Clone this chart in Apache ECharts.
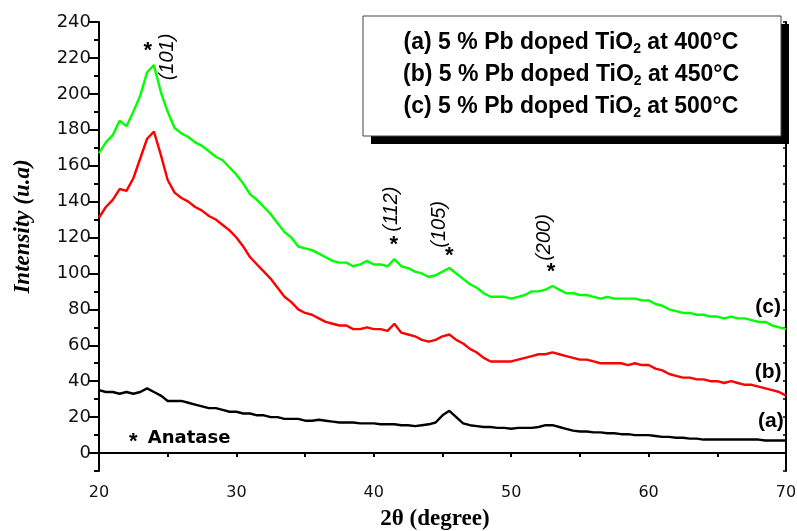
<!DOCTYPE html>
<html>
<head>
<meta charset="utf-8">
<script src="https://cdn.jsdelivr.net/npm/echarts@6/dist/echarts.min.js"></script>
<style>
  html, body { margin: 0; padding: 0; background: #fff; }
  #chart { width: 797px; height: 531px; }
</style>
</head>
<body>
<div id="chart"></div>
<script>
// 2theta sampling (degree)
var twoTheta = [
  20,20.5,21,21.5,22,22.5,23,23.5,24,24.5,
  25,25.5,26,26.5,27,27.5,28,28.5,29,29.5,
  30,30.5,31,31.5,32,32.5,33,33.5,34,34.5,
  35,35.5,36,36.5,37,37.5,38,38.5,39,39.5,
  40,40.5,41,41.5,42,42.5,43,43.5,44,44.5,
  45,45.5,46,46.5,47,47.5,48,48.5,49,49.5,
  50,50.5,51,51.5,52,52.5,53,53.5,54,54.5,
  55,55.5,56,56.5,57,57.5,58,58.5,59,59.5,
  60,60.5,61,61.5,62,62.5,63,63.5,64,64.5,
  65,65.5,66,66.5,67,67.5,68,68.5,69,69.5,
  70
];

// (a) 400°C
var sampleA = [
  35,34,34,33,34,33,34,36,34,32,
  29,29,29,28,27,26,25,25,24,23,
  23,22,22,21,21,20,20,19,19,19,
  18,18,18.5,18,17.5,17,17,17,16.5,16.5,
  16.5,16,16,16,15.5,15.5,15,15.5,16,17,
  21,23.5,20,16.5,15.5,15,14.5,14.5,14,14,
  13.5,14,14,14,14.5,15.5,15.5,14.5,13.5,12.5,
  12,12,11.5,11.5,11,11,10.5,10.5,10,10,
  10,9.5,9,9,8.5,8.5,8,8,7.5,7.5,
  7.5,7.5,7.5,7.5,7.5,7.5,7.5,7,7,7,
  7
];

// (b) 450°C
var sampleB = [
  131,137,141,147,146,153,164,175,179,166,
  152,145,142,140,137,135,132,130,127,124,
  120,115,109,105,101,97,92,87,84,80,
  78,77,75,73,72,71,71,69,69,70,
  69,69,68,72,67,66,65,63,62,63,
  65,66,63,61,58,56,53,51,51,51,
  51,52,53,54,55,55,56,55,54,53,
  52,52,51,50,50,50,50,49,50,49,
  49,47,46,44,43,42,42,41,41,40,
  40,39,40,39,38,38,37,36,35,34,
  32
];

// (c) 500°C
var sampleC = [
  167,173,177,185,182,190,199,212,216,201,
  190,181,178,176,173,171,168,165,163,159,
  155,150,144,141,137,133,128,123,120,115,
  114,113,111,109,107,106,106,104,105,107,
  105,105,104,108,104,103,101,100,98,99,
  101,103,100,97,94,92,89,87,87,87,
  86,87,88,90,90,91,93,91,89,89,
  88,88,87,86,87,86,86,86,86,85,
  85,83,82,80,79,78,78,77,77,76,
  76,75,76,75,75,74,73,73,71,70,
  69
];

var yTickLabels = [0, 20, 40, 60, 80, 100, 120, 140, 160, 180, 200, 220, 240];

var legendLines = [
  ['(a) 5 % Pb doped TiO', '2', ' at 400°C'],
  ['(b) 5 % Pb doped TiO', '2', ' at 450°C'],
  ['(c) 5 % Pb doped TiO', '2', ' at 500°C']
];

// peak labels: star position and (hkl) text position, in data units
var peakNames = ['(101)', '(112)', '(105)', '(200)'];
var peakStars = [[23.55, 224], [41.45, 116], [45.5, 110], [52.9, 101]];
var peakTexts = [[25.0, 220.5], [41.3, 135.8], [44.8, 127.3], [52.45, 120]];

var curveNames = ['(a)', '(b)', '(c)'];
var curveTagPos = [[68.9, 17.5], [68.7, 44.8], [68.7, 81.2]];

function zip(xs, ys) {
  return xs.map(function (x, i) { return [x, ys[i]]; });
}

var chart = echarts.init(document.getElementById('chart'), null, { renderer: 'canvas' });

var axisCol = '#000';
var lineStyleAxis = { color: axisCol, width: 2 };

chart.setOption({
  animation: false,
  backgroundColor: '#fff',
  grid: { left: 99, right: 11, top: 22, bottom: 60, containLabel: false, outerBoundsMode: 'none' },
  xAxis: [{
    type: 'value', min: 20, max: 70, interval: 10,
    axisLine: { lineStyle: lineStyleAxis },
    axisTick: { inside: false, length: 4, lineStyle: { width: 2, color: axisCol } },
    minorTick: { show: true, splitNumber: 2, length: 4, lineStyle: { width: 2, color: axisCol } },
    splitLine: { show: false },
    axisLabel: { margin: 14, color: '#111', fontFamily: 'DejaVu Sans', fontSize: 16 },
    name: '2θ (degree)', nameLocation: 'middle', nameGap: 37, nameMoveOverlap: false,
    nameTextStyle: { fontFamily: 'Liberation Serif', fontWeight: 'bold', fontSize: 23,
      color: '#000', padding: [0, 15, 0, 0] }
  }, {
    type: 'value', position: 'top', min: 20, max: 70, interval: 10,
    axisLine: { lineStyle: lineStyleAxis },
    axisTick: { inside: true, length: 4, lineStyle: { width: 2, color: axisCol } },
    minorTick: { show: true, splitNumber: 2, length: 4, lineStyle: { width: 2, color: axisCol } },
    axisLabel: { show: false }, splitLine: { show: false }
  }],
  yAxis: [{
    type: 'value', min: -10, max: 240, interval: 10,
    axisLine: { show: true, lineStyle: lineStyleAxis },
    axisTick: { length: 5, lineStyle: { width: 2, color: axisCol } },
    splitLine: { show: false },
    axisLabel: { margin: 8, color: '#111', fontFamily: 'DejaVu Sans', fontSize: 18,
      customValues: yTickLabels },
    name: 'Intensity (u.a)', nameLocation: 'middle', nameGap: 64, nameMoveOverlap: false,
    nameTextStyle: { fontFamily: 'Liberation Serif', fontWeight: 'bold', fontStyle: 'italic',
      fontSize: 23, color: '#000', padding: [0, 0, 0, 40] }
  }, {
    // long ticks at the labelled values
    type: 'value', position: 'left', min: -10, max: 240,
    axisLine: { show: false },
    axisTick: { show: true, length: 11, customValues: yTickLabels,
      lineStyle: { width: 2, color: axisCol } },
    axisLabel: { show: false }, splitLine: { show: false }
  }, {
    type: 'value', position: 'right', min: -10, max: 240, interval: 10,
    axisLine: { show: true, lineStyle: lineStyleAxis },
    axisTick: { show: true, inside: true, length: 3, lineStyle: { width: 1.5, color: axisCol } },
    axisLabel: { show: false }, splitLine: { show: false }
  }],
  series: [
    { name: '(a)', type: 'line', data: zip(twoTheta, sampleA), showSymbol: false,
      lineStyle: { color: '#000', width: 2.4 }, itemStyle: { color: '#000' } },
    { name: '(b)', type: 'line', data: zip(twoTheta, sampleB), showSymbol: false,
      lineStyle: { color: '#ff0000', width: 2.4 }, itemStyle: { color: '#ff0000' } },
    { name: '(c)', type: 'line', data: zip(twoTheta, sampleC), showSymbol: false,
      lineStyle: { color: '#00ff00', width: 2.4 }, itemStyle: { color: '#00ff00' } }
  ]
});

// texts placed from data coordinates
function px(p) {
  return chart.convertToPixel({ xAxisIndex: 0, yAxisIndex: 0 }, p);
}

var elems = [];

peakNames.forEach(function (name, i) {
  var s = px(peakStars[i]);
  var t = px(peakTexts[i]);
  elems.push({ type: 'text', x: s[0], y: s[1], z: 50,
    style: { text: '*', font: 'bold 22px "Liberation Sans"', fill: '#000',
      align: 'center', verticalAlign: 'middle' } });
  elems.push({ type: 'text', x: t[0], y: t[1], rotation: Math.PI / 2, z: 50,
    style: { text: name, font: 'italic 20px "Liberation Sans"', fill: '#000',
      align: 'center', verticalAlign: 'middle' } });
});

curveNames.forEach(function (name, i) {
  var p = px(curveTagPos[i]);
  elems.push({ type: 'text', x: p[0], y: p[1], z: 50,
    style: { text: name, font: 'bold 21px "Liberation Sans"', fill: '#000',
      align: 'center', verticalAlign: 'middle' } });
});

// anatase note
var aStar = px([22.5, 6]);
var aText = px([23.55, 8]);
elems.push({ type: 'text', x: aStar[0], y: aStar[1], z: 50,
  style: { text: '*', font: 'bold 22px "Liberation Sans"', fill: '#000',
    align: 'center', verticalAlign: 'middle' } });
elems.push({ type: 'text', x: aText[0], y: aText[1], z: 50,
  style: { text: 'Anatase', font: 'bold 18px "DejaVu Sans"', fill: '#000',
    align: 'left', verticalAlign: 'middle' } });

// legend box with drop shadow
elems.push({ type: 'rect', shape: { x: 371, y: 24, width: 418, height: 120 }, z: 60,
  style: { fill: '#000' } });
elems.push({ type: 'rect', shape: { x: 363, y: 16, width: 418, height: 120 }, z: 61,
  style: { fill: '#fff', stroke: '#444', lineWidth: 1 } });

var richBase = { fontFamily: 'Liberation Sans', fontWeight: 'bold', fill: '#000' };
legendLines.forEach(function (ln, i) {
  elems.push({ type: 'text', x: 571, y: 43 + i * 32, z: 62,
    style: {
      text: '{t|' + ln[0] + '}{s|' + ln[1] + '}{t|' + ln[2] + '}',
      align: 'center', verticalAlign: 'middle',
      rich: {
        t: Object.assign({ fontSize: 23 }, richBase),
        s: Object.assign({ fontSize: 14, padding: [12, 0, 0, 0] }, richBase)
      }
    } });
});

chart.setOption({ graphic: { elements: elems } });
</script>
</body>
</html>
